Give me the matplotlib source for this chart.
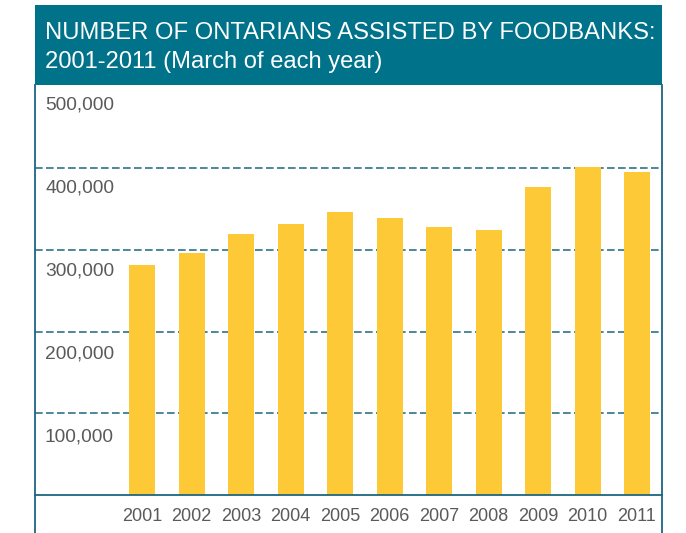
import matplotlib.pyplot as plt
from matplotlib.lines import Line2D
from matplotlib.patches import Rectangle
from matplotlib import transforms

plt.rcParams['font.family'] = ['Liberation Sans', 'DejaVu Sans']

years = ['2001', '2002', '2003', '2004', '2005', '2006',
         '2007', '2008', '2009', '2010', '2011']
assisted = [281700, 296400, 319600, 331900, 346500, 339200,
            328200, 324500, 377100, 401600, 395500]
y_ticks = [100000, 200000, 300000, 400000, 500000]
y_labels = ['100,000', '200,000', '300,000', '400,000', '500,000']
title_lines = ['NUMBER OF ONTARIANS ASSISTED BY FOODBANKS:',
               '2001-2011 (March of each year)']

W, H = 686, 533
teal = '#00728a'
line_col = '#1d6680'
bar_col = '#fdc936'
txt_col = '#5a5a5a'

fig = plt.figure(figsize=(W / 100, H / 100), dpi=100)

# axes: x from 35 to 662 px, y from 495 (0) to 86.5 (500k)
left, right, bottom, top = 35, 662, 495, 86.5
ax = fig.add_axes([left / W, 1 - bottom / H, (right - left) / W, (bottom - top) / H])

step = 49.5
x = list(range(len(years)))
ax.bar(x, assisted, width=26 / step, color=bar_col, zorder=2)
ax.set_xlim((left - 142) / step, (right - 142) / step)
ax.set_ylim(0, 500000)

for v in y_ticks[:-1]:
    ax.axhline(v, color=line_col, lw=1.1, linestyle=(0, (5, 2.2)), zorder=1)

ax.set_yticks([])
ax.set_xticks(x)
ax.set_xticklabels(years, fontsize=13, color=txt_col)
ax.tick_params(axis='x', length=0, pad=9.5)
for s in ['top', 'left', 'right']:
    ax.spines[s].set_visible(False)
ax.spines['bottom'].set_color(line_col)
ax.spines['bottom'].set_linewidth(1.3)
ax.spines['bottom'].set_zorder(3)

# y labels sit just below their value (gap grows slightly toward the bottom)
blend = transforms.blended_transform_factory(ax.transAxes, ax.transData)
for v, lab in zip(y_ticks, y_labels):
    gap = 18.5 + 1.3 * (5 - v / 100000)
    tr = blend + transforms.ScaledTranslation(0, -gap / 100, fig.dpi_scale_trans)
    ax.text((114 - left) / (right - left), v, lab, transform=tr, ha='right',
            va='center', fontsize=13.8, color=txt_col)

# frame lines
fig.add_artist(Line2D([left / W, left / W], [0, 1 - 85 / H], color=line_col, lw=1.3))
fig.add_artist(Line2D([right / W, right / W], [0, 1 - 85 / H], color=line_col, lw=1.3))

# header banner
fig.add_artist(Rectangle((left / W, 1 - 85 / H), (right - left) / W, 80 / H,
                         transform=fig.transFigure, facecolor=teal, edgecolor='none'))
fig.text(45 / W, 1 - 39 / H, title_lines[0], color='white', fontsize=17.1, va='baseline')
fig.text(45 / W, 1 - 68 / H, title_lines[1], color='white', fontsize=17.1, va='baseline')

fig.savefig('out.png', dpi=100)
